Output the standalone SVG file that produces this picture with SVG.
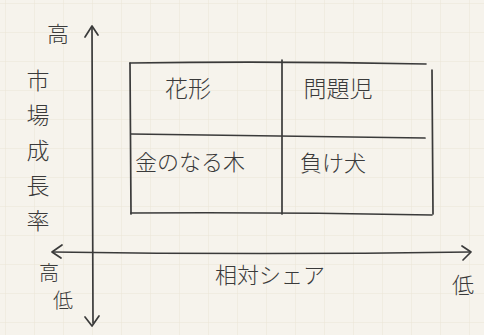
<svg xmlns="http://www.w3.org/2000/svg" width="484" height="335" viewBox="0 0 484 335">
<defs>
<pattern id="grid" width="29" height="29" patternUnits="userSpaceOnUse" x="6" y="4">
<path d="M29 0V29M0 29H29" fill="none" stroke="#ebe4d6" stroke-width="1"/>
</pattern>
<style>
.ln{fill:none;stroke:#3a3a3a;stroke-width:1.7;stroke-linecap:round;stroke-linejoin:round}
.t{font-family:"Noto Sans CJK JP","Noto Sans CJK SC",sans-serif;fill:#3a3a3a;font-weight:300}
</style>
</defs>
<rect width="484" height="335" fill="#f6f3ec"/>
<rect width="484" height="335" fill="url(#grid)"/>
<g id="axes">
<path class="ln" d="M92 27 L93 323"/>
<path class="ln" d="M85 37 L92 26 L98 35"/>
<path class="ln" d="M85 317 L92 326 L99 316"/>
<path class="ln" d="M53 252 Q260 255 470 252"/>
<path class="ln" d="M62 245 L52 252 L61 258"/>
<path class="ln" d="M462 246 L471 252 L463 260"/>
</g>
<g id="matrix">
<path class="ln" d="M130 63 L131 214"/>
<path class="ln" d="M130 63 Q280 61 426 64"/>
<path class="ln" d="M432 70 L433 214"/>
<path class="ln" d="M131 134 Q280 136 425 138"/>
<path class="ln" d="M282 60 L282 214"/>
<path class="ln" d="M131 213 Q280 212 432 215"/>
</g>
<g id="star"><text class="t" x="188" y="97" font-size="23" text-anchor="middle">花形</text></g>
<g id="problem"><text class="t" x="338" y="97" font-size="23" text-anchor="middle">問題児</text></g>
<g id="cashcow"><text class="t" x="190" y="170" font-size="22" text-anchor="middle">金のなる木</text></g>
<g id="dog"><text class="t" x="333" y="171" font-size="22" text-anchor="middle">負け犬</text></g>
<g id="labels">
<text class="t" x="58" y="42" font-size="22" text-anchor="middle">高</text>
<text class="t" x="38" y="89" font-size="23" text-anchor="middle">市</text>
<text class="t" x="38" y="124" font-size="23" text-anchor="middle">場</text>
<text class="t" x="38" y="159" font-size="23" text-anchor="middle">成</text>
<text class="t" x="38" y="194" font-size="23" text-anchor="middle">長</text>
<text class="t" x="38" y="229" font-size="23" text-anchor="middle">率</text>
<text class="t" x="49" y="280" font-size="20" text-anchor="middle">高</text>
<text class="t" x="63" y="308" font-size="20" text-anchor="middle">低</text>
<text class="t" x="270" y="283" font-size="22" text-anchor="middle">相対シェア</text>
<text class="t" x="463" y="293" font-size="22" text-anchor="middle">低</text>
</g>
</svg>
